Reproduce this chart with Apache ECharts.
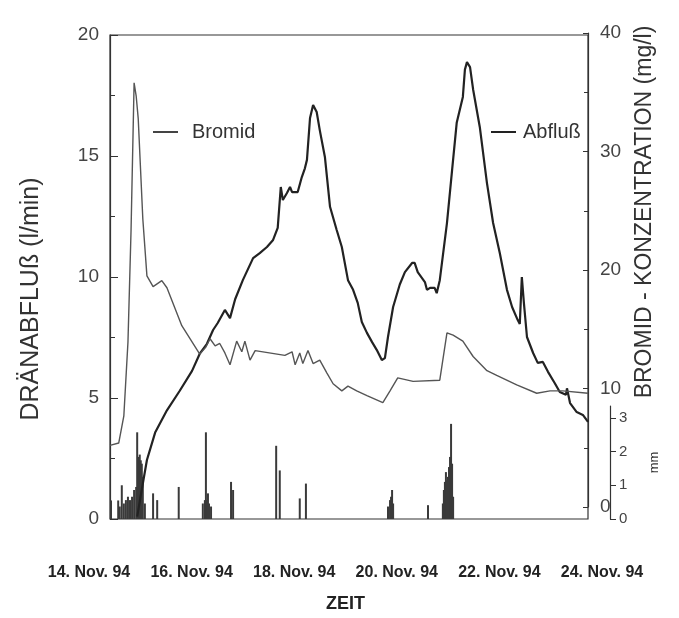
<!DOCTYPE html>
<html>
    <head>
        <meta charset="utf-8">
        <title>Dränabfluß und Bromid</title>
        <script src="https://cdn.jsdelivr.net/npm/echarts@6/dist/echarts.min.js"></script>
        <style>
            html, body { margin: 0; padding: 0; background: #fff; }
            #chart { width: 679px; height: 618px; }
        </style>
    </head>
    <body>
        <div id="chart"></div>
        <script type="text/javascript">
            // Zeit in Tagen (14.0 = 14. Nov. 94, 0 Uhr)
            var tickDays = [14, 16, 18, 20, 22, 24];
            var tickLabels = ['14. Nov. 94', '16. Nov. 94', '18. Nov. 94', '20. Nov. 94', '22. Nov. 94', '24. Nov. 94'];

            // Dränabfluß (l/min)
            var abflussTage = [14.94, 15.03, 15.13, 15.29, 15.52, 15.77, 16.01, 16.16, 16.30, 16.42, 16.51, 16.65, 16.75, 16.85,
                17.00, 17.20, 17.33, 17.47, 17.59, 17.68, 17.74, 17.78, 17.86, 17.92, 17.96, 18.07, 18.15, 18.21, 18.25,
                18.31, 18.37, 18.44, 18.50, 18.60, 18.70, 18.83, 18.93, 19.05, 19.15, 19.24, 19.32, 19.42, 19.52, 19.61,
                19.71, 19.77, 19.83, 19.93, 20.06, 20.16, 20.30, 20.35, 20.41, 20.55, 20.59, 20.65, 20.74, 20.78, 20.84,
                20.98, 21.08, 21.17, 21.29, 21.33, 21.37, 21.43, 21.49, 21.62, 21.76, 21.88, 22.01, 22.15, 22.25, 22.36,
                22.40, 22.44, 22.48, 22.54, 22.66, 22.75, 22.85, 22.95, 23.08, 23.18, 23.30, 23.32, 23.38, 23.51, 23.63, 23.73];
            var abflussWerte = [0.1, 1.22, 2.44, 3.57, 4.49, 5.30, 6.12, 6.83, 7.24, 7.81, 8.10, 8.64, 8.30, 9.08,
                9.87, 10.78, 10.99, 11.24, 11.53, 12.03, 13.72, 13.18, 13.47, 13.72, 13.51, 13.51, 14.13, 14.49, 14.84,
                16.57, 17.11, 16.82, 16.07, 14.96, 12.90, 11.94, 11.24, 9.87, 9.47, 8.93, 8.14, 7.69, 7.31, 6.99,
                6.57, 6.65, 7.52, 8.76, 9.69, 10.20, 10.58, 10.58, 10.20, 9.79, 9.47, 9.55, 9.55, 9.33, 9.87,
                12.23, 14.42, 16.37, 17.44, 18.57, 18.88, 18.67, 17.75, 16.20, 13.88, 12.23, 10.99, 9.47, 8.76, 8.22,
                8.06, 10.0, 8.93, 7.52, 6.86, 6.45, 6.49, 6.08, 5.62, 5.25, 5.13, 5.40, 4.79, 4.42, 4.30, 4.01];

            // Bromid-Konzentration (mg/l)
            var bromidTage = [14.41, 14.58, 14.68, 14.76, 14.82, 14.88, 14.92, 14.96, 15.05, 15.13, 15.25, 15.42, 15.52, 15.81,
                16.16, 16.28, 16.36, 16.46, 16.55, 16.65, 16.75, 16.88, 16.98, 17.04, 17.14, 17.24, 17.82, 17.96, 18.02,
                18.11, 18.17, 18.27, 18.37, 18.50, 18.64, 18.76, 18.93, 19.05, 19.22, 19.42, 19.73, 19.87, 20.02, 20.32,
                20.84, 20.98, 21.10, 21.29, 21.49, 21.76, 21.95, 22.34, 22.73, 22.99, 23.24, 23.73];
            var bromidWerte = [5.2, 5.4, 7.7, 13.9, 23.3, 35.8, 34.7, 32.8, 24.3, 19.5, 18.6, 19.1, 18.5, 15.3,
                12.9, 13.5, 14.2, 13.6, 13.8, 13.0, 12.0, 14.0, 13.1, 14.0, 12.4, 13.2, 12.8, 13.1, 12.0,
                13.0, 12.1, 13.2, 12.1, 12.4, 11.3, 10.4, 9.8, 10.2, 9.8, 9.4, 8.8, 9.8, 10.9, 10.6,
                10.7, 14.7, 14.5, 14.0, 12.7, 11.5, 11.1, 10.3, 9.6, 9.8, 9.8, 9.6];

            // Niederschlag (mm)
            var regenTage = [14.43, 14.57, 14.60, 14.64, 14.68, 14.72, 14.76, 14.80, 14.84, 14.88, 14.92, 14.94, 14.97, 14.99,
                15.01, 15.03, 15.05, 15.09, 15.25, 15.33, 15.75, 16.22, 16.26, 16.28, 16.30, 16.32, 16.34, 16.38, 16.77,
                16.81, 17.65, 17.72, 18.11, 18.23, 19.83, 19.87, 19.89, 19.91, 19.93, 20.61, 20.90, 20.92, 20.94, 20.96,
                20.98, 21.00, 21.02, 21.04, 21.06, 21.08, 21.10];
            var regenMm = [0.55, 0.55, 0.37, 1.0, 0.46, 0.56, 0.66, 0.56, 0.66, 0.86, 0.95, 2.57, 1.84, 1.91,
                1.74, 1.64, 1.25, 0.46, 0.76, 0.56, 0.95, 0.46, 0.56, 2.57, 0.56, 0.76, 0.46, 0.37, 1.10,
                0.86, 2.17, 1.44, 0.61, 1.05, 0.37, 0.56, 0.66, 0.86, 0.46, 0.41, 0.46, 0.86, 1.10, 1.39,
                1.15, 1.25, 1.54, 1.84, 2.82, 1.64, 0.66];

            function pairs(xs, ys) {
                var out = [];
                for (var i = 0; i < xs.length; i++) {
                    out.push([xs[i], ys[i]]);
                }
                return out;
            }

            var xMin = 14.41, xMax = 23.73;
            var fontFam = 'Liberation Sans, Arial, sans-serif';
            var hiddenX = function (gridIndex) {
                return { type: 'value', gridIndex: gridIndex, min: xMin, max: xMax, show: false };
            };

            var myChart = echarts.init(document.getElementById('chart'), null, { renderer: 'canvas' });

            var option = {
                animation: false,
                backgroundColor: '#fff',
                textStyle: { fontFamily: fontFam },
                grid: [
                    { left: 110, right: 91, top: 35, bottom: 99, show: true, borderColor: '#333', borderWidth: 1.2, backgroundColor: 'transparent' },
                    { left: 110, right: 91, top: 33, bottom: 111 },
                    { left: 110, right: 91, top: 406, bottom: 99 },
                    { left: 89, right: 77, top: 35, bottom: 99 }
                ],
                legend: [
                    {
                        data: ['Bromid'], left: 148, top: 117, icon: 'rect', itemWidth: 25, itemHeight: 2,
                        textStyle: { fontSize: 20, color: '#333', padding: [0, 0, 0, 9] }
                    },
                    {
                        data: ['Abfluß'], left: 486, top: 117, icon: 'rect', itemWidth: 25, itemHeight: 2,
                        textStyle: { fontSize: 20, color: '#333', padding: [0, 0, 0, 2] }
                    }
                ],
                xAxis: [
                    hiddenX(0),
                    hiddenX(1),
                    hiddenX(2),
                    {
                        type: 'value', gridIndex: 3, min: 14, max: 24, interval: 2,
                        axisLine: { show: false }, axisTick: { show: false }, splitLine: { show: false },
                        axisLabel: {
                            margin: 53, fontSize: 16, fontWeight: 'bold', color: '#222',
                            formatter: function (v) { return tickLabels[tickDays.indexOf(v)]; }
                        },
                        name: 'ZEIT', nameLocation: 'middle', nameGap: 83,
                        nameTextStyle: { fontSize: 18, fontWeight: 'bold', color: '#222' }
                    }
                ],
                yAxis: [
                    {
                        type: 'value', gridIndex: 0, min: 0, max: 20, interval: 5, position: 'left',
                        axisLine: { show: true, lineStyle: { color: '#333', width: 1.2 } },
                        axisTick: { show: true, inside: true, length: 8, lineStyle: { color: '#333' } },
                        minorTick: { show: true, splitNumber: 2, length: 5, lineStyle: { color: '#333' } },
                        splitLine: { show: false },
                        axisLabel: { fontSize: 19, color: '#444', margin: 11 },
                        name: 'DRÄNABFLUß (l/min)', nameLocation: 'middle', nameRotate: 90, nameGap: 66,
                        nameTextStyle: { fontSize: 25, color: '#333', padding: [0, 44, 0, 0] }
                    },
                    {
                        type: 'value', gridIndex: 1, min: 0, max: 40, interval: 10, position: 'right',
                        axisLine: { show: true, lineStyle: { color: '#333', width: 1.2 } },
                        axisTick: { show: true, inside: true, length: 5, lineStyle: { color: '#333' } },
                        minorTick: { show: true, splitNumber: 2, length: 4, lineStyle: { color: '#333' } },
                        splitLine: { show: false },
                        axisLabel: { fontSize: 19, color: '#444', margin: 12 },
                        name: 'BROMID - KONZENTRATION (mg/l)', nameLocation: 'middle', nameRotate: 90, nameGap: 45,
                        nameTextStyle: { fontSize: 23, color: '#333', padding: [0, 0, 0, 116] }
                    },
                    {
                        type: 'value', gridIndex: 2, min: 0, max: 3.35, position: 'right', offset: 22,
                        axisLine: { show: true, lineStyle: { color: '#333', width: 1.2 } },
                        axisTick: { show: true, length: 6, customValues: [0, 1, 2, 3], lineStyle: { color: '#333' } },
                        splitLine: { show: false },
                        axisLabel: { fontSize: 15, color: '#444', margin: 9, customValues: [0, 1, 2, 3] },
                        name: 'mm', nameLocation: 'middle', nameRotate: 90, nameGap: 38,
                        nameTextStyle: { fontSize: 13, color: '#333' }
                    },
                    { type: 'value', gridIndex: 3, show: false }
                ],
                series: [
                    {
                        name: 'Abfluß', type: 'line', xAxisIndex: 0, yAxisIndex: 0,
                        data: pairs(abflussTage, abflussWerte), showSymbol: false,
                        color: '#222', lineStyle: { color: '#222', width: 2.2 }
                    },
                    {
                        name: 'Bromid', type: 'line', xAxisIndex: 1, yAxisIndex: 1,
                        data: pairs(bromidTage, bromidWerte), showSymbol: false,
                        color: '#444', lineStyle: { color: '#555', width: 1.4 }
                    },
                    {
                        name: 'Niederschlag', type: 'bar', xAxisIndex: 2, yAxisIndex: 2,
                        data: pairs(regenTage, regenMm), barWidth: 2,
                        itemStyle: { color: '#3a3a3a' }
                    }
                ]
            };
            if (option && typeof option === "object") {
                myChart.setOption(option, true);
            }
        </script>
    </body>
</html>
